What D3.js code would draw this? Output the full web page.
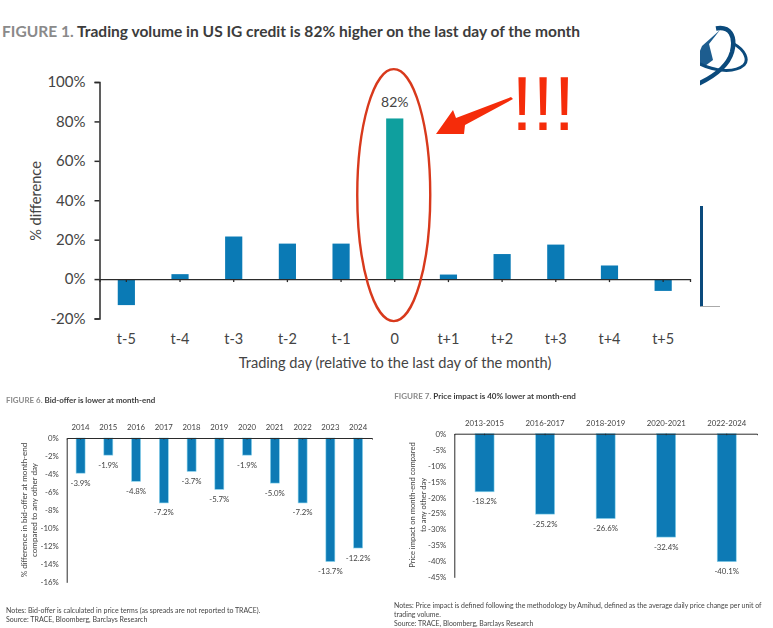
<!DOCTYPE html>
<html>
<head>
<meta charset="utf-8">
<script src="https://cdn.jsdelivr.net/npm/d3@7/dist/d3.min.js"></script>
<style>
  html, body { margin: 0; padding: 0; background: #fff; }
  svg { display: block; }
  text { font-family: Lato, sans-serif; fill: #444; }
</style>
</head>
<body>
<svg id="chart" width="773" height="628"></svg>
<script>
var volumeDays = ["t-5", "t-4", "t-3", "t-2", "t-1", "0", "t+1", "t+2", "t+3", "t+4", "t+5"];
var volumeDiff = [-13.2, 2.5, 21.6, 18, 18, 81.5, 2.3, 12.7, 17.5, 6.9, -6];
var volumeTicks = [100, 80, 60, 40, 20, 0, -20];

var bidOfferYears = ["2014", "2015", "2016", "2017", "2018", "2019", "2020", "2021", "2022", "2023", "2024"];
var bidOfferDiff = [-3.9, -1.9, -4.8, -7.2, -3.7, -5.7, -1.9, -5.0, -7.2, -13.7, -12.2];
var bidOfferTicks = [0, -2, -4, -6, -8, -10, -12, -14, -16];

var impactPeriods = ["2013-2015", "2016-2017", "2018-2019", "2020-2021", "2022-2024"];
var impactDiff = [-18.2, -25.2, -26.6, -32.4, -40.1];
var impactTicks = [0, -5, -10, -15, -20, -25, -30, -35, -40, -45];

var svg = d3.select("#chart");
var pct = function(d) { return d + "%"; };

// the two lower panels are soft in the screenshot
svg.append("filter").attr("id", "soft").append("feGaussianBlur").attr("stdDeviation", 0.35);

// Titles: grey figure number followed by the dark headline
function title(x, y, size, fig, text) {
  var t = svg.append("text").attr("x", x).attr("y", y)
    .style("font-size", size + "px").style("font-weight", 700);
  t.append("tspan").style("fill", "#8a8a8a").text(fig + " ");
  t.append("tspan").style("fill", "#3c3c3c").text(text);
  return t;
}

function styleAxis(g, size) {
  g.selectAll("path, line").attr("stroke", "#2b2b2b");
  g.selectAll("text").style("font-size", size + "px").style("fill", "#444");
}

// ---- Figure 1
var x1 = d3.scaleBand().domain(volumeDays).range([99.5, 690]).paddingInner(0.68).paddingOuter(0.34);
var y1 = d3.scaleLinear().domain([-20, 100]).range([318.5, 82]);

title(2, 37, 15.55, "FIGURE 1.", "Trading volume in US IG credit is 82% higher on the last day of the month");

svg.append("g").selectAll("rect").data(volumeDiff).enter().append("rect")
  .attr("x", function(d, i) { return x1(volumeDays[i]); })
  .attr("width", x1.bandwidth())
  .attr("y", function(d) { return y1(Math.max(d, 0)); })
  .attr("height", function(d) { return Math.abs(y1(d) - y1(0)); })
  .attr("fill", function(d, i) { return volumeDays[i] === "0" ? "#0f9f9e" : "#0a7ab5"; });

var yAxis1 = svg.append("g").attr("transform", "translate(99.5,0)")
  .call(d3.axisLeft(y1).tickValues(volumeTicks).tickFormat(pct).tickSize(5).tickSizeOuter(5).tickPadding(9));
styleAxis(yAxis1, 15);
yAxis1.selectAll("path, line").attr("stroke-width", 1.5);

var xAxis1 = svg.append("g").attr("transform", "translate(0," + y1(0) + ")")
  .call(d3.axisBottom(x1).tickSize(3).tickSizeOuter(3).tickFormat(""));
styleAxis(xAxis1, 15);
xAxis1.selectAll("path, line").attr("stroke-width", 1.3);

svg.append("g").selectAll("text").data(volumeDays).enter().append("text")
  .attr("x", function(d) { return x1(d) + x1.bandwidth() / 2; })
  .attr("y", 344).attr("text-anchor", "middle").style("font-size", "14.5px")
  .text(function(d) { return d; });

svg.append("text").attr("x", 395).attr("y", 368).attr("text-anchor", "middle")
  .style("font-size", "14.6px").text("Trading day (relative to the last day of the month)");
svg.append("text").attr("transform", "translate(41,201) rotate(-90)").attr("text-anchor", "middle")
  .style("font-size", "14.6px").text("% difference");
svg.append("text").attr("x", x1("0") + x1.bandwidth() / 2).attr("y", 107).attr("text-anchor", "middle")
  .style("font-size", "14px").text("82%");

// Hand-drawn style call-out around the month-end bar
svg.append("ellipse")
  .attr("cx", x1("0") + x1.bandwidth() / 2 - 1).attr("cy", y1(0) - 84).attr("rx", 36.5).attr("ry", 126)
  .attr("fill", "none").attr("stroke", "#d8391c").attr("stroke-width", 2.4);
svg.append("path").attr("d", "M511,97 L513,99 L465,125 L464,134 L436,134 L453,110 L456,118 Z").attr("fill", "#f52c0a");
svg.append("text").attr("x", 511.5).attr("y", 130)
  .style("font-family", "'Liberation Sans', sans-serif").style("font-size", "76px").style("fill", "#f52c0a")
  .text("!!!");

// Cropped logo and rule on the right edge of the screenshot
var clip = svg.append("clipPath").attr("id", "logo-clip");
clip.append("rect").attr("x", 700).attr("y", 20).attr("width", 60).attr("height", 70);
var logo = svg.append("g").attr("clip-path", "url(#logo-clip)").attr("fill", "none").attr("stroke", "#0b4a7c");
logo.append("path").attr("d", "M720,30 L709,44 L713,60 L705,66 L696,60 L702,46 Z").attr("fill", "#1d5d8f").attr("stroke", "none");
logo.append("path").attr("d", "M716,28.5 C730,26 736,36 732,52 C728,66 715,76 698,84").attr("stroke-width", 4.5);
logo.append("path").attr("d", "M734,44 C745,50 749,60 744,65 C735,73 715,72 698,63").attr("stroke-width", 3);
svg.append("line").attr("x1", 701.5).attr("x2", 701.5).attr("y1", 206).attr("y2", 306.5)
  .attr("stroke", "#0b4a7c").attr("stroke-width", 3);
svg.append("line").attr("x1", 701).attr("x2", 720).attr("y1", 306.5).attr("y2", 306.5)
  .attr("stroke", "#aaa").attr("stroke-width", 1);

// ---- Figures 6 and 7 share the same layout: bars hanging from a top axis
function hangingBars(o) {
  var x = d3.scaleBand().domain(o.cats).range([o.left, o.right]).paddingInner(o.pad).paddingOuter(o.pad / 2);
  var y = d3.scaleLinear().domain([0, o.min]).range([o.top, o.bottom]);
  var g = svg.append("g").attr("filter", "url(#soft)");

  g.append("g").selectAll("rect").data(o.values).enter().append("rect")
    .attr("x", function(d, i) { return x(o.cats[i]); })
    .attr("y", y(0))
    .attr("width", x.bandwidth())
    .attr("height", function(d) { return y(d) - y(0); })
    .attr("fill", "#0a7ab5").attr("stroke", "#8fd6ee").attr("stroke-width", 0.6);

  var ya = g.append("g").attr("transform", "translate(" + o.left + ",0)")
    .call(d3.axisLeft(y).tickValues(o.ticks).tickFormat(pct).tickSize(0).tickPadding(8));
  styleAxis(ya, 7.8);
  ya.selectAll("path").attr("stroke-width", 1);

  var xa = g.append("g").attr("transform", "translate(0," + y(0) + ")")
    .call(d3.axisBottom(x).tickSize(1.5).tickSizeOuter(1.5).tickFormat(""));
  styleAxis(xa, 7.8);
  xa.selectAll("path").attr("stroke-width", 1);

  g.append("g").selectAll("text").data(o.cats).enter().append("text")
    .attr("x", function(d) { return x(d) + x.bandwidth() / 2; })
    .attr("y", o.catY).attr("text-anchor", "middle").style("font-size", "7.8px")
    .text(function(d) { return d; });

  g.append("g").selectAll("text").data(o.values).enter().append("text")
    .attr("x", function(d, i) { return x(o.cats[i]) + x.bandwidth() / 2; })
    .attr("y", function(d) { return y(d) + 12.5; })
    .attr("text-anchor", "middle").style("font-size", "7.8px")
    .text(function(d) { return d.toFixed(1) + "%"; });

  o.yTitle.forEach(function(line, i) {
    g.append("text")
      .attr("transform", "translate(" + (o.yTitleX + i * 10.5) + "," + o.yTitleY + ") rotate(-90)")
      .attr("text-anchor", "middle").style("font-size", o.yTitleSize + "px").text(line);
  });

  o.notes.forEach(function(line, i) {
    g.append("text").attr("x", o.notesX).attr("y", o.notesY + i * 9.2)
      .style("font-size", o.notesSize + "px").text(line);
  });
}

title(6, 403, 7.95, "FIGURE 6.", "Bid-offer is lower at month-end").attr("filter", "url(#soft)");
hangingBars({
  cats: bidOfferYears, values: bidOfferDiff, ticks: bidOfferTicks, min: -16,
  left: 66.7, right: 372, top: 438, bottom: 582.3, pad: 0.676, catY: 430,
  yTitle: ["% difference in bid-offer at month-end", "compared to any other day"],
  yTitleX: 26.5, yTitleY: 510, yTitleSize: 8,
  notes: ["Notes: Bid-offer is calculated in price terms (as spreads are not reported to TRACE).",
          "Source: TRACE, Bloomberg, Barclays Research"],
  notesX: 6, notesY: 612.5, notesSize: 7
});

title(394.3, 399, 8.05, "FIGURE 7.", "Price impact is 40% lower at month-end").attr("filter", "url(#soft)");
hangingBars({
  cats: impactPeriods, values: impactDiff, ticks: impactTicks, min: -45,
  left: 454.3, right: 757, top: 433.7, bottom: 577.3, pad: 0.686, catY: 425.5,
  yTitle: ["Price impact on month-end compared", "to any other day"],
  yTitleX: 415, yTitleY: 505, yTitleSize: 7.6,
  notes: ["Notes: Price impact is defined following the methodology by Amihud, defined as the average daily price change per unit of",
          "trading volume.",
          "Source: TRACE, Bloomberg, Barclays Research"],
  notesX: 394, notesY: 607.5, notesSize: 6.92
});
</script>
</body>
</html>
